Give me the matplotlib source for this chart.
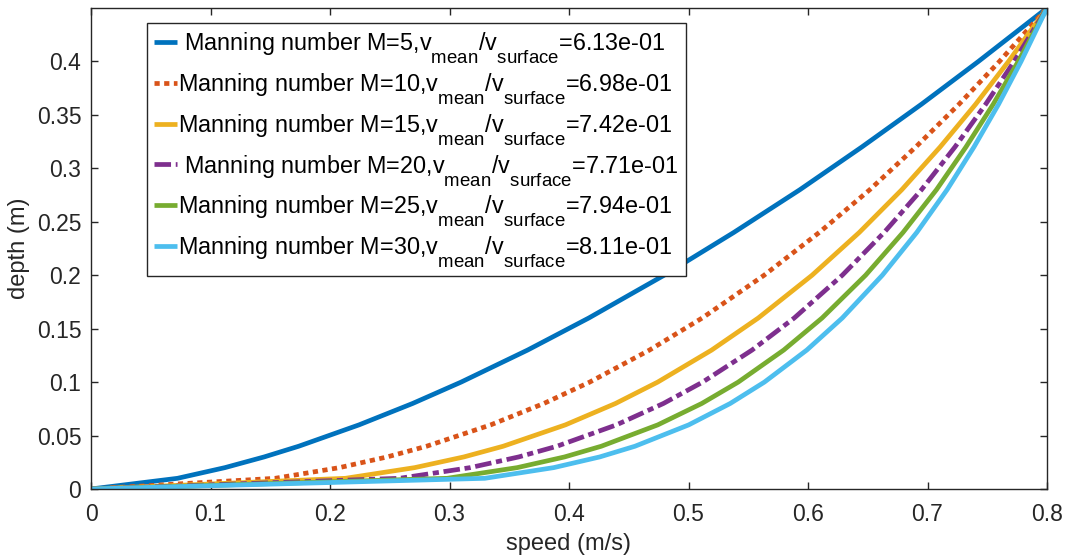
import matplotlib
matplotlib.use("Agg")
import matplotlib.pyplot as plt
import matplotlib._mathtext as _mt
_mt.SHRINK_FACTOR = 0.8
_mt.FontConstantsBase.sub1 = 1.0

plt.rcParams['font.family'] = ['Liberation Sans', 'DejaVu Sans']
plt.rcParams['mathtext.fontset'] = 'custom'
plt.rcParams['mathtext.rm'] = 'Liberation Sans'
plt.rcParams['mathtext.it'] = 'Liberation Sans'
plt.rcParams['mathtext.bf'] = 'Liberation Sans:bold'

# depth samples (m)
depth = [0, 0.01, 0.02, 0.03, 0.04, 0.06, 0.08, 0.10, 0.13, 0.16, 0.20, 0.24, 0.28, 0.32, 0.36, 0.40, 0.45]

# speed (m/s) for each Manning number
speed_M5 = [0, 0.0724, 0.1121, 0.1449, 0.1738, 0.2243, 0.2691, 0.3097, 0.3654, 0.4166, 0.4796, 0.5379, 0.5932, 0.6451, 0.6950, 0.7426, 0.8]
speed_M10 = [0, 0.1541, 0.2079, 0.2478, 0.2808, 0.3345, 0.3789, 0.4173, 0.4674, 0.5115, 0.5633, 0.6094, 0.6517, 0.6902, 0.7264, 0.7602, 0.8]
speed_M15 = [0, 0.2129, 0.2709, 0.3120, 0.3449, 0.3970, 0.4389, 0.4742, 0.5194, 0.5584, 0.6034, 0.6429, 0.6785, 0.7106, 0.7403, 0.7678, 0.8]
speed_M20 = [0, 0.2582, 0.3173, 0.3579, 0.3899, 0.4397, 0.4790, 0.5118, 0.5532, 0.5885, 0.6287, 0.6637, 0.6950, 0.7230, 0.7487, 0.7725, 0.8]
speed_M25 = [0, 0.2980, 0.3567, 0.3963, 0.4270, 0.4743, 0.5111, 0.5416, 0.5797, 0.6118, 0.6482, 0.6795, 0.7075, 0.7322, 0.7550, 0.7759, 0.8]
speed_M30 = [0, 0.3295, 0.3872, 0.4257, 0.4552, 0.5002, 0.5349, 0.5635, 0.5990, 0.6287, 0.6622, 0.6910, 0.7164, 0.7389, 0.7595, 0.7783, 0.8]

manning = [5, 10, 15, 20, 25, 30]
ratios = ["6.13e-01", "6.98e-01", "7.42e-01", "7.71e-01", "7.94e-01", "8.11e-01"]
lead = [" ", "", "", " ", "", ""]

xticks = [0, 0.1, 0.2, 0.3, 0.4, 0.5, 0.6, 0.7, 0.8]
xticklabels = ["0", "0.1", "0.2", "0.3", "0.4", "0.5", "0.6", "0.7", "0.8"]
yticks = [0, 0.05, 0.1, 0.15, 0.2, 0.25, 0.3, 0.35, 0.4]
yticklabels = ["0", "0.05", "0.1", "0.15", "0.2", "0.25", "0.3", "0.35", "0.4"]

series = [speed_M5, speed_M10, speed_M15, speed_M20, speed_M25, speed_M30]
colors = ["#0072BD", "#D95319", "#EDB120", "#7E2F8E", "#77AC30", "#4DBEEE"]
styles = ["-", (0, (1.1, 0.95)), "-", (0, (3.5, 1.0, 1.3, 1.0)), "-", "-"]

fig = plt.figure(figsize=(10.65, 5.58), dpi=100)
ax = fig.add_axes([91/1065, 69/558, 956/1065, 481/558])

for s, c, ls, m, r, ld in zip(series, colors, styles, manning, ratios, lead):
    label = ld + "Manning number M=%d,v$_{\\mathrm{mean}}$/v$_{\\mathrm{surface}}$=%s" % (m, r)
    ax.plot(s, depth, color=c, linestyle=ls, linewidth=3.4, label=label,
            solid_capstyle='butt', dash_capstyle='butt')

ax.set_xlim(0, 0.8)
ax.set_ylim(0, 0.45)
ax.set_xticks(xticks)
ax.set_xticklabels(xticklabels)
ax.set_yticks(yticks)
ax.set_yticklabels(yticklabels)
axcol = "#262626"
for sp in ax.spines.values():
    sp.set_color(axcol)
    sp.set_linewidth(1.0)
ax.tick_params(direction='in', top=True, right=True, length=5, width=1.0,
               colors=axcol, labelsize=16.5)
ax.tick_params(axis='x', pad=10)
ax.tick_params(axis='y', pad=7)
ax.set_xlabel("speed (m/s)", fontsize=17, color=axcol, labelpad=5)
ax.set_ylabel("depth (m)", fontsize=17, color=axcol, labelpad=5)

leg = ax.legend(loc='upper left', bbox_to_anchor=(147/1065, 1 - 23/558),
                bbox_transform=fig.transFigure, borderaxespad=0,
                fontsize=16.8, frameon=True, fancybox=False, framealpha=1,
                edgecolor=axcol, handlelength=1.0, handletextpad=0.05,
                labelspacing=0.25, borderpad=0.3)
leg.get_frame().set_linewidth(1.0)

fig.savefig("out.png", dpi=100)
